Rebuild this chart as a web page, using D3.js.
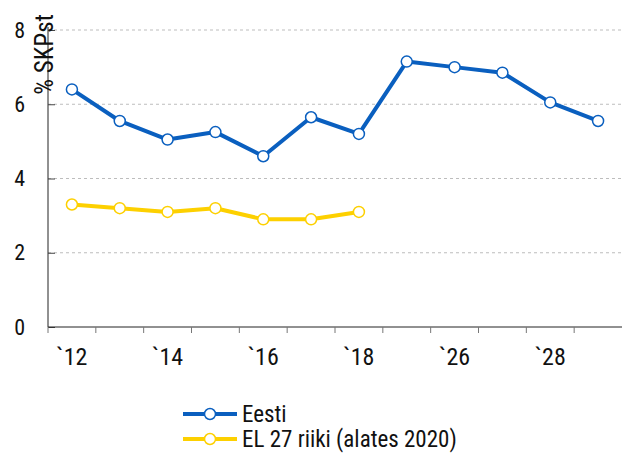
<!DOCTYPE html>
<html>
<head>
<meta charset="utf-8">
<script src="https://cdn.jsdelivr.net/npm/d3@7"></script>
<style>
  body { margin: 0; background: #fff; }
  svg text { font-family: "Roboto Condensed", "Liberation Sans Narrow", "Roboto", sans-serif; fill: #111; }
</style>
</head>
<body>
<div id="chart"></div>
<script>
// andmed
const aastad = ["`12", "`13", "`14", "`15", "`16", "`17", "`18", "`25", "`26", "`27", "`28", "`29"];
const eesti = [6.4, 5.55, 5.05, 5.25, 4.6, 5.65, 5.2, 7.15, 7.0, 6.85, 6.05, 5.55];
const el27 = [3.3, 3.2, 3.1, 3.2, 2.9, 2.9, 3.1, null, null, null, null, null];
const xSildid = ["`12", "`14", "`16", "`18", "`26", "`28"];
const yTicks = [0, 2, 4, 6, 8];
const seeriad = ["Eesti", "EL 27 riiki (alates 2020)"];

const W = 622, H = 453;
const mLeft = 48, mRight = 622, mTop = 30, mBottom = 327;
const varvid = ["#0a5fbf", "#fdd000"];

const svg = d3.select("#chart")
    .append("svg")
    .attr("width", W)
    .attr("height", H);

const x = d3.scaleBand()
    .domain(aastad)
    .range([mLeft, mRight]);

const y = d3.scaleLinear()
    .domain([0, 8])
    .range([mBottom, mTop]);

// ruudustik
svg.append("g")
    .selectAll("line")
    .data(yTicks.filter(d => d > 0))
    .enter()
    .append("line")
    .attr("x1", mLeft)
    .attr("x2", mRight)
    .attr("y1", d => y(d))
    .attr("y2", d => y(d))
    .attr("stroke", "#bdbdbd")
    .attr("stroke-dasharray", "3,3");

// y telg
const yAxis = svg.append("g")
    .attr("transform", `translate(${mLeft},0)`)
    .call(d3.axisRight(y).tickValues(yTicks).tickSize(7).tickFormat(""));
yAxis.select(".domain").attr("stroke", "#222").attr("d", `M0,${mTop - 3}V${mBottom}`);
yAxis.selectAll(".tick line").attr("stroke", "#444");

svg.append("g")
    .selectAll("text")
    .data(yTicks)
    .enter()
    .append("text")
    .attr("x", 25)
    .attr("y", d => y(d))
    .attr("dy", "0.35em")
    .attr("text-anchor", "end")
    .attr("font-size", "22px")
    .text(d => d);

// x telg
const xAxis = svg.append("g")
    .attr("transform", `translate(0,${mBottom})`)
    .call(d3.axisBottom(x).tickSize(0).tickFormat(""));
xAxis.select(".domain").attr("stroke", "#222").attr("d", `M${mLeft},0H${mRight}`);

svg.append("g")
    .selectAll("line")
    .data(aastad)
    .enter()
    .append("line")
    .attr("x1", d => x(d))
    .attr("x2", d => x(d))
    .attr("y1", mBottom)
    .attr("y2", mBottom + 6)
    .attr("stroke", "#777");

svg.append("g")
    .selectAll("text")
    .data(xSildid)
    .enter()
    .append("text")
    .attr("x", d => x(d) + x.bandwidth() / 2)
    .attr("y", 365)
    .attr("text-anchor", "middle")
    .attr("font-size", "24px")
    .text(d => d);

// y telje pealkiri
svg.append("text")
    .attr("transform", "translate(53,14) rotate(-90)")
    .attr("text-anchor", "end")
    .attr("font-size", "25px")
    .text("% SKPst");

// jooned
const andmed = [eesti, el27];
const line = d3.line()
    .defined(d => d.v != null)
    .x(d => x(d.k) + x.bandwidth() / 2)
    .y(d => y(d.v));

andmed.forEach((s, i) => {
    const pts = aastad.map((k, j) => ({k: k, v: s[j]}));
    svg.append("path")
        .datum(pts)
        .attr("fill", "none")
        .attr("stroke", varvid[i])
        .attr("stroke-width", 4)
        .attr("stroke-linejoin", "round")
        .attr("d", line);
    svg.append("g")
        .selectAll("circle")
        .data(pts.filter(d => d.v != null))
        .enter()
        .append("circle")
        .attr("cx", d => x(d.k) + x.bandwidth() / 2)
        .attr("cy", d => y(d.v))
        .attr("r", 5.5)
        .attr("fill", "#fff")
        .attr("stroke", varvid[i])
        .attr("stroke-width", 1.5);
});

// legend
const leg = svg.append("g")
    .selectAll("g")
    .data(seeriad)
    .enter()
    .append("g")
    .attr("transform", (d, i) => `translate(183,${414 + i * 25})`);
leg.append("line")
    .attr("x1", 0).attr("x2", 54)
    .attr("stroke", (d, i) => varvid[i])
    .attr("stroke-width", 4);
leg.append("circle")
    .attr("cx", 27).attr("r", 5.5)
    .attr("fill", "#fff")
    .attr("stroke", (d, i) => varvid[i])
    .attr("stroke-width", 1.5);
leg.append("text")
    .attr("x", 59)
    .attr("dy", "0.36em")
    .attr("font-size", "23px")
    .text(d => d);
</script>
</body>
</html>
